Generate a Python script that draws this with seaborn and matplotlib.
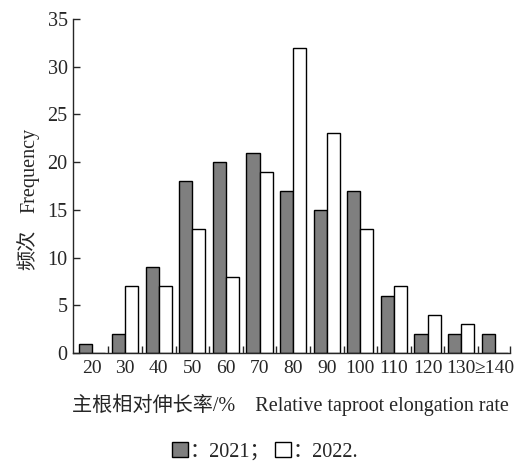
import matplotlib
matplotlib.use("Agg")
import matplotlib.pyplot as plt
from matplotlib.patches import Patch
import seaborn as sns
import pandas as pd
import numpy as np

# 数据
bins = ["20", "30", "40", "50", "60", "70", "80", "90", "100", "110", "120", "130", "≥140"]
y2021 = [1, 2, 9, 18, 20, 21, 17, 15, 17, 6, 2, 2, 2]
y2022 = [0, 7, 7, 13, 8, 19, 32, 23, 13, 7, 4, 3, 0]

df = pd.DataFrame({
    "bin": bins * 2,
    "count": y2021 + y2022,
    "year": ["2021"] * len(bins) + ["2022"] * len(bins),
})

sns.set_style("ticks")
plt.rcParams["font.family"] = ["Liberation Serif", "Noto Sans CJK SC", "DejaVu Sans"]

fig = plt.figure(figsize=(5.3, 4.61), dpi=100)
ax = fig.add_axes([0.138, 0.234, 0.824, 0.725])

sns.barplot(data=df, x="bin", y="count", hue="year", palette=["#7f7f7f", "white"],
            edgecolor="black", linewidth=1, width=0.78, legend=False, ax=ax)

ax.set_ylim(0, 35)
ax.set_xlim(-0.55, 12.45)
ax.set_yticks(np.arange(0, 36, 5))
ax.set_xticks(range(len(bins)))
ax.set_xticklabels(bins)
# 组间的小刻度（含轴末端）
ax.set_xticks(list(np.arange(0.5, 12, 1)) + [12.44], minor=True)
ax.tick_params(axis="x", which="major", length=0, labelsize=14, pad=5)
ax.tick_params(axis="x", which="minor", direction="in", length=5, width=1)
ax.tick_params(axis="y", direction="in", length=5, width=1, labelsize=14.5, pad=4)
for s in ["top", "right"]:
    ax.spines[s].set_visible(False)
for s in ["left", "bottom"]:
    ax.spines[s].set_linewidth(1)

ax.set_xlabel("主根相对伸长率/%    Relative taproot elongation rate", fontsize=14.5)
ax.xaxis.set_label_coords(0.497, -0.12)
ax.set_ylabel("")
# 纵轴标题：中文与英文分开写
ax.text(-0.1, 0.548, "Frequency", rotation=90, ha="center", va="center",
        fontsize=14.5, transform=ax.transAxes)
ax.text(-0.1, 0.308, "频次", rotation=90, ha="center", va="center",
        fontsize=14.5, transform=ax.transAxes)

handles = [Patch(facecolor="#7f7f7f", edgecolor="black", linewidth=1),
           Patch(facecolor="white", edgecolor="black", linewidth=1)]
fig.legend(handles, ["：2021；", "：2022."], loc="center", bbox_to_anchor=(0.5, 0.02),
           ncol=2, frameon=False, fontsize=14.5, handlelength=0.8, handleheight=0.8,
           handletextpad=0.1, columnspacing=0.2)

fig.savefig("out.png", dpi=100)
